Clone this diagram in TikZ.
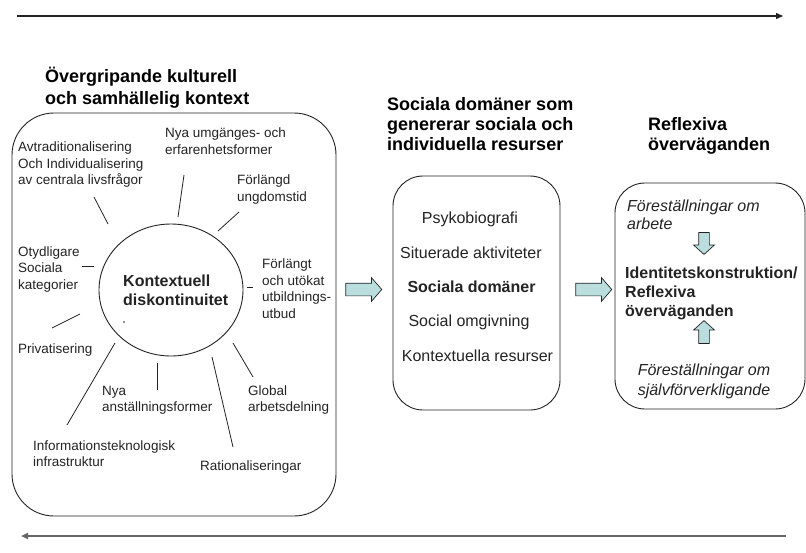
\documentclass[tikz,border=0pt]{standalone}
\usepackage{fontspec}
\setmainfont{Liberation Sans}
\usetikzlibrary{shapes.geometric,shapes.arrows,arrows.meta}
\definecolor{arrowfill}{RGB}{186,221,222}
\definecolor{ink}{RGB}{35,35,35}
\newcommand\fLab{\fontsize{13.5}{16.5}\selectfont}
\newcommand\fMidt{\fontsize{16}{19}\selectfont}
\newcommand\fCirc{\fontsize{16}{19.5}\selectfont\bfseries}
\newcommand\fTitA{\fontsize{18}{22}\selectfont\bfseries}
\newcommand\fTitB{\fontsize{18}{19.75}\selectfont\bfseries}
\newcommand\fTitC{\fontsize{18}{20}\selectfont\bfseries}
\newcommand\fRit{\fontsize{16}{18}\selectfont\itshape}
\newcommand\fRitB{\fontsize{16}{20}\selectfont\itshape}
\newcommand\fRbf{\fontsize{16}{19}\selectfont\bfseries}
\newcommand\mlL[1]{\begin{tabular}{@{}l@{}}#1\end{tabular}}
\newcommand\mlC[1]{\begin{tabular}{@{}c@{}}#1\end{tabular}}
\begin{document}
\begin{tikzpicture}[x=1pt,y=-1pt,
  lab/.style={anchor=north west,inner sep=0pt,font=\fLab,text=ink},
  midtxt/.style={anchor=base west,inner sep=0pt,font=\fMidt,text=ink},
  box/.style={draw=ink,line width=0.9pt,inner sep=0pt},
  spoke/.style={draw=ink,line width=0.8pt},
  barrow/.style={single arrow,draw=ink,line width=0.7pt,fill=arrowfill,inner xsep=0pt,inner ysep=6pt,single arrow head extend=5.5pt,single arrow tip angle=98},
  varrow/.style={single arrow,draw=ink,line width=0.7pt,fill=arrowfill,inner sep=5pt,single arrow head extend=5pt,single arrow tip angle=96},
  timeline/.style={draw=ink,line width=1.3pt}]
\path[use as bounding box] (0,0) rectangle (806,552);

% time arrows
\coordinate (t1) at (17,16);
\coordinate (t2) at (783,16);
\draw[timeline,-{Triangle[length=7pt,width=6pt]}] (t1) -- (t2);
\coordinate (b1) at (786,536);
\coordinate (b2) at (21,536);
\draw[timeline,draw=black!60,line width=1.8pt,-{Triangle[length=7pt,width=6pt]}] (b1) -- (b2);

% titles
\node[anchor=north west,inner sep=0pt,font=\fTitA] (tA) at (45,67) {\mlL{Övergripande kulturell\\och samhällelig kontext}};
\node[anchor=north west,inner sep=0pt,font=\fTitB] (tB) at (387,96.7) {\mlL{Sociala domäner som\\genererar sociala och\\individuella resurser}};
\node[anchor=north west,inner sep=0pt,font=\fTitC] (tC) at (648,116) {\mlL{Reflexiva\\överväganden}};

% boxes
\node[box,rounded corners=42pt,minimum width=324pt,minimum height=403pt] (ctx) at (174,314.5) {};
\node[box,rounded corners=30pt,minimum width=167pt,minimum height=234pt] (dom) at (476.5,293) {};
\node[box,rounded corners=30pt,minimum width=190pt,minimum height=226pt] (ref) at (710,296) {};

% circle
\node[draw=ink,line width=0.9pt,ellipse,minimum width=144pt,minimum height=132pt,inner sep=0pt] (kd) at (171,290) {};
\node[anchor=north west,inner sep=0pt,font=\fCirc,text=ink] (kdt) at (123,272.4) {\mlL{Kontextuell\\diskontinuitet}};
\fill[ink] (124,322) circle (0.8pt);

% spokes
\draw[spoke] (94,197) coordinate (s1a) -- (108,224) coordinate (s1b);
\draw[spoke] (184,175) coordinate (s2a) -- (178,217) coordinate (s2b);
\draw[spoke] (239,212) coordinate (s3a) -- (218,231) coordinate (s3b);
\draw[spoke] (82,266) coordinate (s4a) -- (94,266) coordinate (s4b);
\draw[spoke] (247,287) coordinate (s5a) -- (253,287) coordinate (s5b);
\draw[spoke] (52,328) coordinate (s6a) -- (80,314) coordinate (s6b);
\draw[spoke] (67,425) coordinate (s7a) -- (115,343) coordinate (s7b);
\draw[spoke] (157,363) coordinate (s8a) -- (157,390) coordinate (s8b);
\draw[spoke] (212,357) coordinate (s9a) -- (233,447) coordinate (s9b);
\draw[spoke] (233,343) coordinate (s10a) -- (253,377) coordinate (s10b);

% labels around circle
\node[lab] (l1) at (18,140) {\mlL{Avtraditionalisering\\Och Individualisering\\av centrala livsfrågor}};
\node[lab] (l2) at (165,126) {\mlL{Nya umgänges- och\\erfarenhetsformer}};
\node[lab] (l3) at (237,173) {\mlL{Förlängd\\ungdomstid}};
\node[lab] (l4) at (18,244.5) {\mlL{Otydligare\\Sociala\\kategorier}};
\node[lab] (l5) at (262,257) {\mlL{Förlängt\\och utökat\\utbildnings-\\utbud}};
\node[lab] (l6) at (18,341.5) {\mlL{Privatisering}};
\node[lab] (l7) at (102,383.5) {\mlL{Nya\\anställningsformer}};
\node[lab] (l8) at (248,383.5) {\mlL{Global\\arbetsdelning}};
\node[lab] (l9) at (33,438.5) {\mlL{Informationsteknologisk\\infrastruktur}};
\node[lab] (l10) at (200,459) {\mlL{Rationaliseringar}};

% middle box texts
\node[midtxt] (m1) at (421.7,223.5) {Psykobiografi};
\node[midtxt] (m2) at (400,258.5) {Situerade aktiviteter};
\node[midtxt,font=\fMidt\bfseries] (m3) at (407.3,292.5) {Sociala domäner};
\node[midtxt] (m4) at (408.3,326.5) {Social omgivning};
\node[midtxt] (m5) at (401.7,361.5) {Kontextuella resurser};

% block arrows
\node[barrow,minimum height=36pt,minimum width=23pt] (a1) at (361,289.5) {};
\node[barrow,minimum height=36pt,minimum width=23pt] (a2) at (591,289.5) {};

% right box texts
\node[anchor=north west,inner sep=0pt,font=\fRit,text=ink] (r1) at (627,198.4) {\mlL{Föreställningar om\\arbete}};
\node[varrow,shape border rotate=270,minimum height=22pt,minimum width=20pt] (d1) at (704,241) {};
\node[anchor=north west,inner sep=0pt,font=\fRbf,text=ink] (r2) at (625,265.2) {\mlL{Identitetskonstruktion/\\Reflexiva\\överväganden}};
\node[varrow,shape border rotate=90,minimum height=23pt,minimum width=20pt] (u1) at (704,334.5) {};
\node[anchor=north,inner sep=0pt,font=\fRitB,text=ink] (r3) at (704,361) {\mlC{Föreställningar om\\självförverkligande}};
\end{tikzpicture}
\end{document}
